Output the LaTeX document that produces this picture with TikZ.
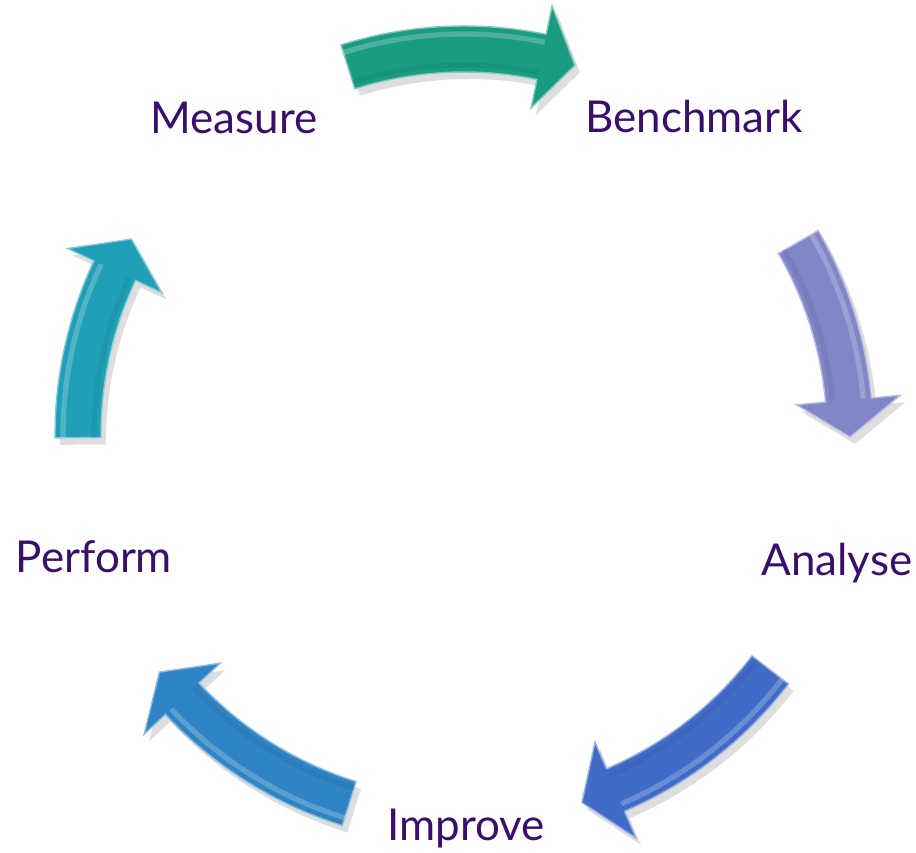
\documentclass[tikz,border=0pt]{standalone}
\usepackage{fontspec}
\setmainfont{Lato}
\definecolor{labelpurple}{HTML}{3A0F6B}
\definecolor{measuregreen}{HTML}{1A9C83}
\definecolor{benchlilac}{HTML}{8086C8}
\definecolor{analyseblue}{HTML}{406CC8}
\definecolor{improveblue}{HTML}{2E84C4}
\definecolor{performteal}{HTML}{20A0B6}
\tikzset{
  stage/.style={anchor=base, text=labelpurple, font=\fontsize{25}{30}\selectfont},
  arrowshadow/.style={fill=black, opacity=0.13},
}
% curved ribbon arrow round the centre: tail angle, head angle, tip angle, colour
\newcommand{\cyclearrow}[4]{%
  \fill[arrowshadow, shift={(5,-7)}] (#1:409) arc[start angle=#1, end angle=#2, radius=409]
    -- (#2:438) -- (#3:386) -- (#2:334) -- (#2:363)
    arc[start angle=#2, end angle=#1, radius=363] -- cycle;
  \filldraw[fill=#4, draw=#4!55!white, line width=0.8pt] (#1:409) arc[start angle=#1, end angle=#2, radius=409]
    -- (#2:438) -- (#3:386) -- (#2:334) -- (#2:363)
    arc[start angle=#2, end angle=#1, radius=363] -- cycle;
  \draw[white, opacity=0.22, line width=3pt] (#1:401) arc[start angle=#1, end angle=#2, radius=401];
  \draw[#4!70!black, opacity=0.18, line width=3pt] (#1:370) arc[start angle=#1, end angle=#2, radius=370];
}

\begin{document}
\begin{tikzpicture}[x=0.02cm, y=0.02cm]
\useasboundingbox (-464,-417) rectangle (452,435);
% Arrows
    \cyclearrow{107.5}{78.4}{73.3}{measuregreen}
    \cyclearrow{30}{5.2}{-0.3}{benchlilac}
    \cyclearrow{-37.5}{-66.9}{-72.2}{analyseblue}
    \cyclearrow{-107.3}{-136.9}{-142.1}{improveblue}
    \cyclearrow{180.4}{154.8}{149.5}{performteal}
% Stages
    \node[stage] (measure) at (-230,301) {Measure};
    \node[stage] (benchmark) at (230,302) {Benchmark};
    \node[stage] (analyse) at (373,-140) {Analyse};
    \node[stage] (improve) at (2,-405) {Improve};
    \node[stage] (perform) at (-370,-137) {Perform};
\end{tikzpicture}
\end{document}
